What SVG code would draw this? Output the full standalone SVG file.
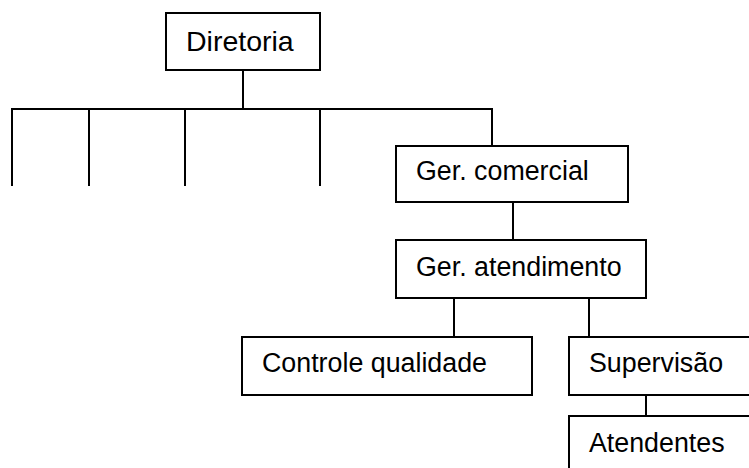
<svg xmlns="http://www.w3.org/2000/svg" width="749" height="468" viewBox="0 0 749 468">
<style>
.box{fill:#fff;stroke:#000;stroke-width:2}
.ln{stroke:#000;stroke-width:2;fill:none}
text{font-family:"Liberation Sans",Arial,sans-serif;font-size:26.8px;fill:#000}
</style>
<rect width="749" height="468" fill="#fff"/>
<g id="connectors">
<line class="ln" x1="243" y1="70" x2="243" y2="109"/>
<line class="ln" x1="11" y1="109" x2="493" y2="109"/>
<line class="ln" x1="12" y1="108" x2="12" y2="186"/>
<line class="ln" x1="89" y1="108" x2="89" y2="186"/>
<line class="ln" x1="185" y1="108" x2="185" y2="186"/>
<line class="ln" x1="320" y1="108" x2="320" y2="186"/>
<line class="ln" x1="492" y1="108" x2="492" y2="146"/>
<line class="ln" x1="513" y1="202" x2="513" y2="240"/>
<line class="ln" x1="454" y1="298" x2="454" y2="337"/>
<line class="ln" x1="589" y1="298" x2="589" y2="337"/>
<line class="ln" x1="646" y1="395" x2="646" y2="416"/>
</g>
<g id="diretoria">
<rect class="box" x="166" y="13" width="154" height="57"/>
<text x="186" y="51" style="font-size:28.5px">Diretoria</text>
</g>
<g id="ger-comercial">
<rect class="box" x="396" y="146" width="232" height="56"/>
<text x="416" y="180">Ger. comercial</text>
</g>
<g id="ger-atendimento">
<rect class="box" x="396" y="240" width="250" height="58"/>
<text x="416" y="276">Ger. atendimento</text>
</g>
<g id="controle-qualidade">
<rect class="box" x="242" y="337" width="290" height="58"/>
<text x="262" y="372">Controle qualidade</text>
</g>
<g id="supervisao">
<path class="ln" d="M750,337 H569 V395 H750"/>
<text x="589" y="372">Supervisão</text>
</g>
<g id="atendentes">
<path class="ln" d="M750,416 H569 V469"/>
<text x="589" y="452">Atendentes</text>
</g>
</svg>
